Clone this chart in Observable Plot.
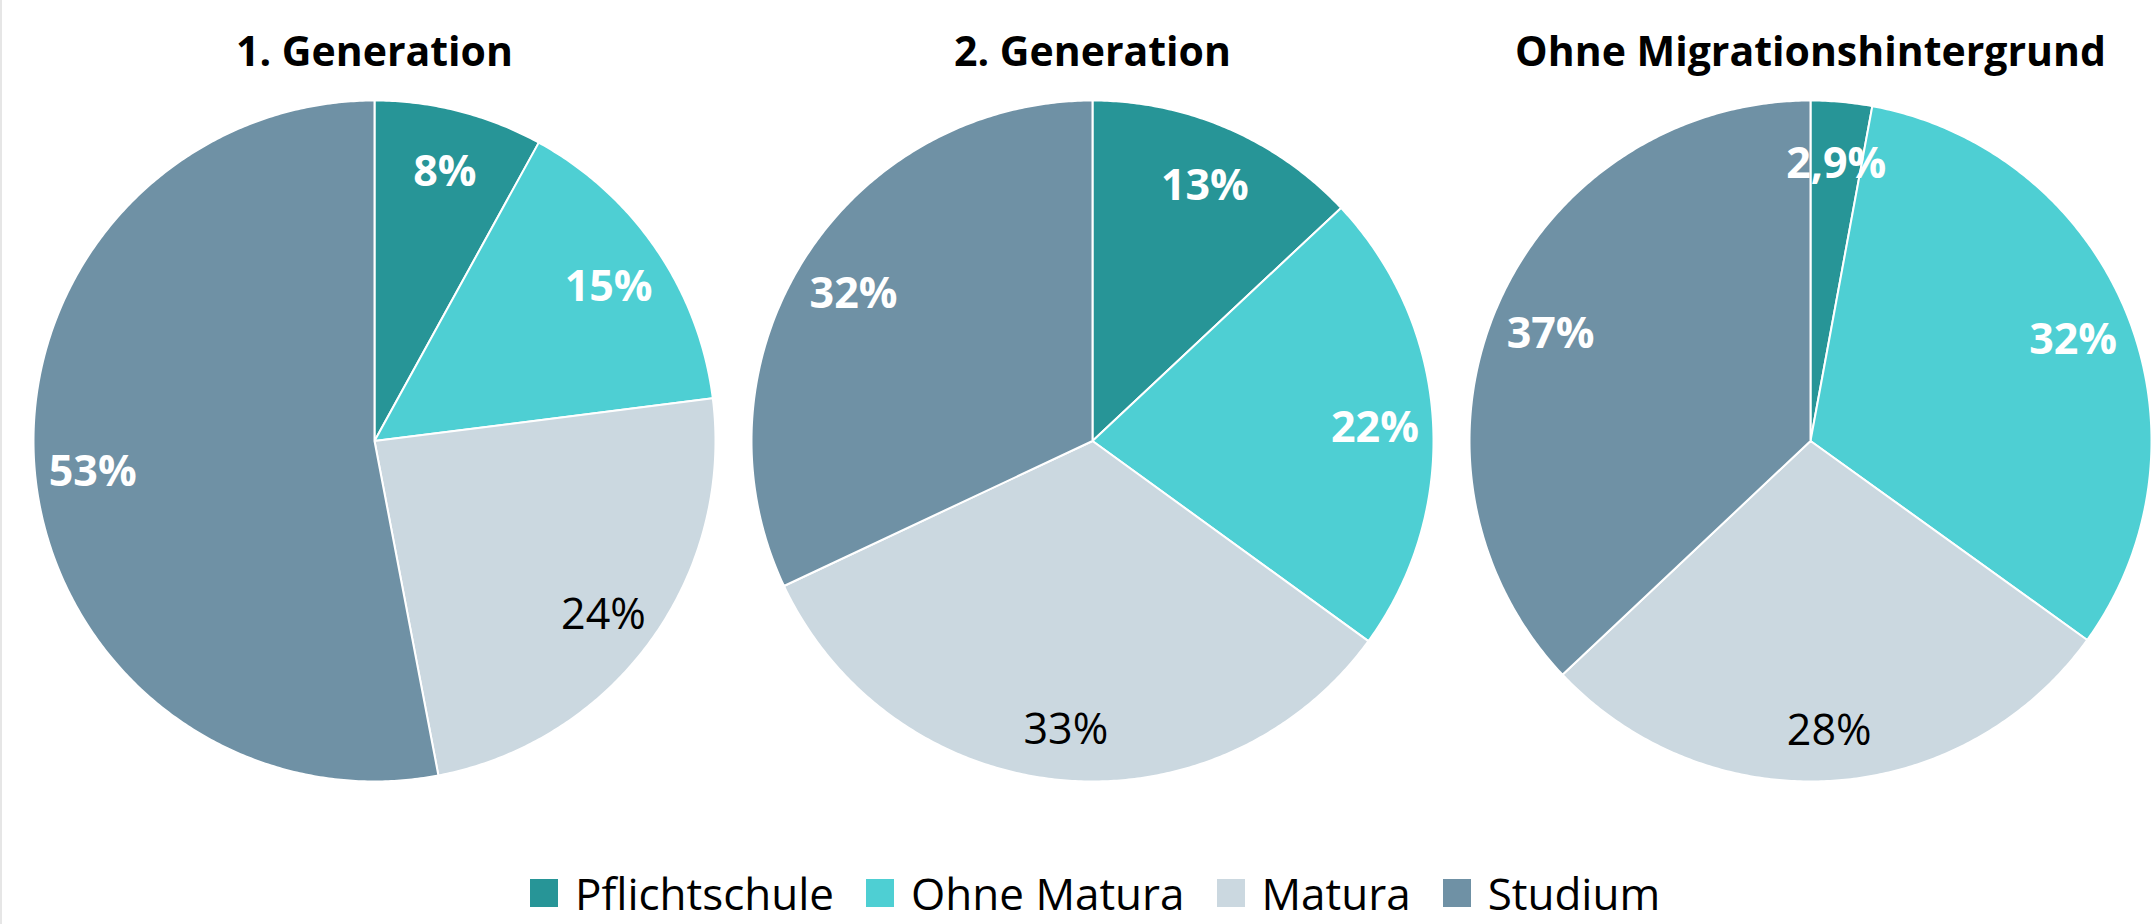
<!DOCTYPE html>
<html><head><meta charset="utf-8">
<script src="https://cdn.jsdelivr.net/npm/d3@7"></script>
<script src="https://cdn.jsdelivr.net/npm/@observablehq/plot@0.6"></script>
<style>
html,body{margin:0;padding:0;background:#fff;}
body{width:2152px;height:924px;position:relative;overflow:hidden;}
#edge{position:absolute;left:0;top:0;width:2px;height:924px;background:#e6e6e6;}
#chart svg{display:block;}
#legend{display:flex;align-items:center;height:64px;padding-left:530px;padding-top:2px;box-sizing:border-box;font-family:"Open Sans";font-size:44px;color:#000;line-height:1;}
.item{display:flex;align-items:center;margin-right:32px;}
.sw{width:28px;height:28px;margin-right:17px;}
</style></head><body>
<div id="edge"></div>
<div id="chart"></div>
<div id="legend"></div>
<script>
const groups = ["1. Generation", "2. Generation", "Ohne Migrationshintergrund"];
const categories = ["Pflichtschule", "Ohne Matura", "Matura", "Studium"];
const colors = ["#279597", "#4ECFD3", "#CBD8E0", "#6F91A5"];
const gen1 = [8, 15, 24, 53];
const gen2 = [13, 22, 33, 32];
const ohneMig = [2.9, 32, 28, 37];
const whiteLabel = [true, true, false, true];

const series = [gen1, gen2, ohneMig];
const pie = d3.pie().sort(null);
const slices = [];
const outline = [];
series.forEach((vals, gi) => {
  pie(vals).forEach((a, ci) => {
    const g = groups[gi], c = categories[ci];
    slices.push({group: g, cat: c, value: vals[ci],
      label: String(vals[ci]).replace(".", ",") + "%",
      mid: (a.startAngle + a.endAngle) / 2, white: whiteLabel[ci]});
    const n = Math.max(2, Math.ceil((a.endAngle - a.startAngle) / (Math.PI / 360)));
    outline.push({group: g, cat: c, t: 0, r: 0});
    for (let k = 0; k <= n; k++) {
      outline.push({group: g, cat: c, t: a.startAngle + (a.endAngle - a.startAngle) * k / n, r: 1});
    }
    outline.push({group: g, cat: c, t: 0, r: 0});
  });
});
const LR = 0.83;
const lx = d => LR * Math.sin(d.mid), ly = d => LR * Math.cos(d.mid);

const chart = Plot.plot({
  width: 2152, height: 860,
  marginTop: 100, marginBottom: 79, marginLeft: 33, marginRight: 1,
  style: {background: "transparent", fontFamily: "Open Sans", color: "#000"},
  fx: {domain: groups, paddingInner: 36 / 718, paddingOuter: 0, round: false, label: null},
  x: {domain: [-1, 1], axis: null},
  y: {domain: [-1, 1], axis: null},
  color: {domain: categories, range: colors},
  marks: [
    Plot.axisFx({anchor: "top", tickSize: 0, tickPadding: 35, fontSize: 41, fontWeight: "bold", label: null, fill: "#000"}),
    Plot.line(outline, {fx: "group", x: d => d.r * Math.sin(d.t), y: d => d.r * Math.cos(d.t), z: "cat", fill: "cat", stroke: "white", strokeWidth: 2, strokeLinejoin: "round"}),
    Plot.text(slices, {filter: d => d.white, fx: "group", x: lx, y: ly, dy: 5, text: "label", fill: "white", fontWeight: "bold", fontSize: 43}),
    Plot.text(slices, {filter: d => !d.white, fx: "group", x: lx, y: ly, dy: 8, text: "label", fill: "black", fontSize: 43})
  ]
});
document.getElementById("chart").appendChild(chart);

const legend = document.getElementById("legend");
categories.forEach((c, i) => {
  const item = document.createElement("div");
  item.className = "item";
  const sw = document.createElement("span");
  sw.className = "sw";
  sw.style.background = colors[i];
  const tx = document.createElement("span");
  tx.textContent = c;
  item.appendChild(sw); item.appendChild(tx);
  legend.appendChild(item);
});
</script></body></html>
